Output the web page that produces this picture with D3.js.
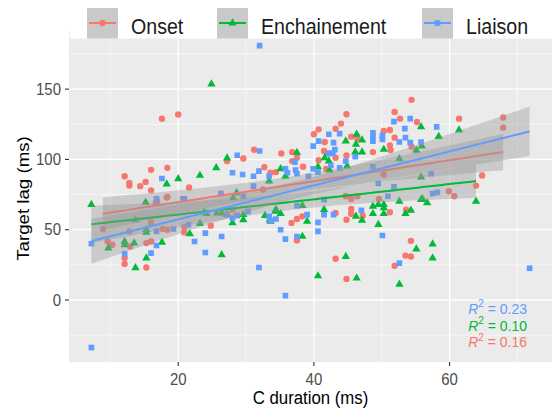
<!DOCTYPE html>
<html>
<head>
<meta charset="utf-8">
<script src="https://cdn.jsdelivr.net/npm/d3@7"></script>
<style>
	body { margin: 0; background: #fff; }
	text { font-family: 'Liberation Sans', Arial, sans-serif; }
</style>
</head>
<body>
<svg id="chart" width="552" height="410"></svg>
<script>
const groups = ['Onset', 'Enchainement', 'Liaison']
const colors = ['#F8766D', '#00BA38', '#619CFF']
const shapes = [d3.symbolCircle, d3.symbolTriangle, d3.symbolSquare]
const rSquared = ['0.16', '0.10', '0.23']
const xTicks = [20, 40, 60]
const xMinor = [10, 30, 50, 70]
const yTicks = [0, 50, 100, 150]
const yMinor = [-25, 25, 75, 125, 175]

// [C duration, target lag]
const onset = [
	[20, 132], [17.6, 129], [16, 92.6], [18.4, 94], [12.1, 88], [12.8, 83.3], [12.8, 81.4],
	[15.2, 84], [14.4, 81], [21.6, 80], [16, 78], [27.2, 98.8], [29.6, 100.7], [31.2, 106.9],
	[32.7, 94.5], [33.6, 90.5], [34.4, 91], [18.3, 72.9], [35.2, 104.3], [36.8, 105.2],
	[37.5, 101.2], [36.8, 98.8], [38.4, 94.8], [40, 117.9], [40.7, 121.4], [41.6, 112.4],
	[43.2, 121.9], [44, 125.5], [44.8, 132.1], [45.5, 116.2], [46.4, 114.8], [41.5, 106],
	[42.1, 104.3], [40.7, 99.5], [43.2, 101.2], [44.8, 102.9], [41.8, 93.3], [54.4, 142.4],
	[51.9, 133.8], [52.7, 129], [55.2, 126.6], [50.3, 120.2], [51.2, 120.9], [51.9, 115.5],
	[51.2, 110], [54.4, 109.1], [51.3, 106.7], [48.7, 105.2], [61.4, 129], [67.9, 129.8],
	[67.9, 122.6], [50.3, 89.3], [64.8, 88.6], [63.9, 81.4], [60.7, 73.8], [59.9, 77.4],
	[8.9, 50.5], [9.6, 41.6], [10.3, 39.3], [12.1, 29.8], [12.1, 25.7], [12.9, 38.1],
	[15.3, 23.1], [15.3, 40.5], [16, 41.6], [17.7, 50.5], [18.4, 50], [16, 55.2], [12.8, 48.8],
	[20.9, 51.9], [20.9, 48.1], [24.8, 52.9], [18.4, 73.3], [16.7, 69], [36.7, 54.8],
	[37.5, 57.6], [38.3, 59.5], [37.5, 42.4], [43.2, 61.9], [44.7, 73.8], [45.5, 71.9],
	[46.4, 73.8], [45.5, 64.8], [45.5, 61.4], [44.8, 57.1], [47.2, 60], [43.2, 29.3],
	[44.8, 15], [49.6, 71.9], [51.2, 62.4], [53.6, 64.3], [54.3, 42.1], [53.5, 31.6],
	[54.3, 30.9], [51.9, 24.3], [16.9, 70.2], [32.5, 78.6], [28, 64.3]
]
const enchainement = [
	[24.9, 153.6], [20, 86.2], [23.2, 88.6], [25.6, 94], [18.3, 82.4], [27.2, 101], [7.2, 67.9],
	[15.2, 69.5], [35.1, 93.3], [37.5, 104.8], [44.7, 113], [46.3, 117.9], [47.1, 113.8],
	[46.2, 110.7], [46.1, 105.2], [47.1, 105.2], [41.6, 101.2], [42.2, 98.8], [42.3, 92.4],
	[44.9, 95.2], [40.6, 94.8], [35.8, 88], [55.8, 123.1], [50.3, 107.1], [55.1, 106.4],
	[55.9, 109.5], [58.4, 116.2], [61.4, 120.9], [52.6, 100.5], [55.8, 87.4], [63.9, 70.2],
	[56, 71.9], [56.7, 69.1], [9.7, 36.9], [12.1, 41.6], [12.1, 39.3], [13.5, 40.5],
	[13.7, 22.9], [15.3, 29.8], [15.3, 48.1], [15.3, 50], [17.6, 41], [21.7, 47.1], [23.2, 54.3],
	[13.7, 57], [26.4, 32.1], [28, 54.8], [29.6, 60.7], [29.6, 57.1], [26.4, 61.9], [25.7, 61.9],
	[24.2, 61.4], [32.8, 60], [33.5, 57.1], [34.3, 63.1], [33.6, 55.9], [34.4, 64.3],
	[35.1, 61.4], [38.3, 67.1], [39, 55.9], [38.3, 45.2], [41.5, 64.3], [46.2, 59.5],
	[47.1, 56.7], [44.7, 30.9], [46.3, 15.5], [40.6, 17.1], [48.7, 66.6], [49.5, 67.9],
	[50.3, 67.9], [50.3, 65.5], [48.7, 61.4], [50.3, 61.4], [52.6, 70.2], [53.5, 61.4],
	[54.3, 63.8], [55.8, 71.4], [49.5, 53.6], [55.1, 36.2], [57.5, 39.8], [57.5, 29.8],
	[52.6, 11.2], [28.6, 76.2], [28.1, 72.6], [23.8, 62.4], [33.4, 84.5], [27.2, 60.7]
]
const liaison = [
	[17.6, 86.4], [28.7, 103], [32, 106], [28, 90.5], [29.5, 89.3], [31.1, 88], [31.9, 91.7],
	[33.4, 88], [26.3, 75.7], [20.7, 72], [32, 181], [35.8, 93.3], [36.1, 90.5], [37.3, 92.4],
	[37.5, 89.8], [39.9, 109.5], [40.7, 113], [42.2, 117.9], [42.9, 111.9], [43.1, 107],
	[43.8, 118.3], [46.1, 101.9], [42.2, 104.3], [42.8, 104.3], [42.5, 95.7], [44.7, 98.8],
	[43.8, 94], [39.9, 93.3], [40.6, 91], [39.2, 88], [37.2, 98.1], [51.8, 126.9], [54.2, 129],
	[53.4, 121.9], [50.1, 117.1], [50.1, 114.3], [48.7, 119], [48.7, 116.2], [48.7, 113],
	[52.6, 112.4], [53.5, 115.5], [54.2, 111.9], [55.8, 112.4], [58.1, 123.1], [48.7, 94.8],
	[57.3, 89.8], [49.5, 82.9], [57.5, 75.7], [58.2, 76.6], [7.2, 40], [7.2, -33.8],
	[12.1, 32.9], [16, 33.3], [16.8, 38.8], [16.8, 48.8], [19.3, 50.5], [21.5, 53.6], [24, 47.6],
	[22.4, 41.6], [24, 33.8], [16.8, 71.9], [20.9, 71.9], [26.4, 45.2], [27.2, 60.7], [28, 58.3],
	[28.7, 60], [30.3, 63.1], [31.9, 23.1], [33.4, 59.5], [33.6, 56.7], [34.4, 57.6], [35.1, 50],
	[39, 60.7], [37.5, 67.1], [35.8, 43.3], [37.5, 45.2], [40.6, 55.2], [40.6, 48.8],
	[41.5, 60.7], [41.5, 71.4], [42.9, 60.7], [47, 63.8], [35.8, 3.1], [50.9, 73.8],
	[50.1, 45.9], [52.6, 26.2], [71.8, 22.6], [29.6, 73.8], [31.1, 81], [51.8, 80.5]
]
const series = [onset, enchainement, liaison]

const svg = d3.select('#chart')
const panel = { left: 69, right: 552, top: 31.5, bottom: 362 }

const x = d3.scaleLinear().domain([3.9, 75.1]).range([panel.left, panel.right])
const y = d3.scaleLinear().domain([-44.1, 191]).range([panel.bottom, panel.top])

// text in the picture is stretched a little vertically
const stretch = (tx, ty) => `translate(${tx},${ty}) scale(1,1.1)`

svg.append('clipPath')
	.attr('id', 'clip')
	.append('rect')
	.attr('x', panel.left)
	.attr('y', panel.top)
	.attr('width', panel.right - panel.left)
	.attr('height', panel.bottom - panel.top)

svg.append('rect')
	.attr('x', panel.left)
	.attr('y', panel.top)
	.attr('width', panel.right - panel.left)
	.attr('height', panel.bottom - panel.top)
	.attr('fill', '#EBEBEB')

const grid = svg.append('g').attr('stroke', '#fff')
grid.selectAll('.xminor')
	.data(xMinor)
	.enter()
	.append('line')
	.attr('x1', d => x(d)).attr('x2', d => x(d))
	.attr('y1', panel.top).attr('y2', panel.bottom)
	.attr('stroke-width', 0.6)
grid.selectAll('.yminor')
	.data(yMinor)
	.enter()
	.append('line')
	.attr('y1', d => y(d)).attr('y2', d => y(d))
	.attr('x1', panel.left).attr('x2', panel.right)
	.attr('stroke-width', 0.6)
grid.selectAll('.xmajor')
	.data(xTicks)
	.enter()
	.append('line')
	.attr('x1', d => x(d)).attr('x2', d => x(d))
	.attr('y1', panel.top).attr('y2', panel.bottom)
	.attr('stroke-width', 1.3)
grid.selectAll('.ymajor')
	.data(yTicks)
	.enter()
	.append('line')
	.attr('y1', d => y(d)).attr('y2', d => y(d))
	.attr('x1', panel.left).attr('x2', panel.right)
	.attr('stroke-width', 1.3)

const plot = svg.append('g').attr('clip-path', 'url(#clip)')

series.forEach((pts, i) => {
	plot.append('g')
		.selectAll('path')
		.data(pts)
		.enter()
		.append('path')
		.attr('d', d3.symbol().type(shapes[i]).size(i == 1 ? 30 : 32))
		.attr('transform', d => `translate(${x(d[0])},${y(d[1])})`)
		.attr('fill', colors[i])
})

function tQuantile(df) {
	const z = 1.959964
	return z + (z ** 3 + z) / (4 * df) + (5 * z ** 5 + 16 * z ** 3 + 3 * z) / (96 * df * df)
}

// linear fit with 95% confidence band, like geom_smooth(method = 'lm')
function fitLine(pts) {
	const n = pts.length
	const mx = d3.mean(pts, d => d[0])
	const my = d3.mean(pts, d => d[1])
	const sxx = d3.sum(pts, d => (d[0] - mx) ** 2)
	const slope = d3.sum(pts, d => (d[0] - mx) * (d[1] - my)) / sxx
	const icpt = my - slope * mx
	const s = Math.sqrt(d3.sum(pts, d => (d[1] - icpt - slope * d[0]) ** 2) / (n - 2))
	const t = tQuantile(n - 2)
	const [x0, x1] = d3.extent(pts, d => d[0])
	return d3.range(80).map(k => {
		const xv = x0 + ((x1 - x0) * k) / 79
		const yv = icpt + slope * xv
		const se = s * Math.sqrt(1 / n + (xv - mx) ** 2 / sxx)
		return { x: xv, y: yv, lo: yv - t * se, hi: yv + t * se }
	})
}

series.forEach((pts, i) => {
	const fit = fitLine(pts)
	plot.append('path')
		.datum(fit)
		.attr('d', d3.area().x(d => x(d.x)).y0(d => y(d.lo)).y1(d => y(d.hi)))
		.attr('fill', '#999999')
		.attr('fill-opacity', 0.4)
	plot.append('path')
		.datum(fit)
		.attr('d', d3.line().x(d => x(d.x)).y(d => y(d.y)))
		.attr('fill', 'none')
		.attr('stroke', colors[i])
		.attr('stroke-width', 2)
})

// axes
const xAxis = svg.append('g')
xAxis.selectAll('line')
	.data(xTicks)
	.enter()
	.append('line')
	.attr('x1', d => x(d)).attr('x2', d => x(d))
	.attr('y1', panel.bottom).attr('y2', panel.bottom + 4)
	.attr('stroke', '#333')
	.attr('stroke-width', 1.1)
xAxis.selectAll('text')
	.data(xTicks)
	.enter()
	.append('text')
	.attr('transform', d => stretch(x(d), 384.5))
	.attr('text-anchor', 'middle')
	.attr('font-size', 15)
	.attr('fill', '#4D4D4D')
	.text(d => d)

const yAxis = svg.append('g')
yAxis.selectAll('line')
	.data(yTicks)
	.enter()
	.append('line')
	.attr('y1', d => y(d)).attr('y2', d => y(d))
	.attr('x1', panel.left - 4).attr('x2', panel.left)
	.attr('stroke', '#333')
	.attr('stroke-width', 1.1)
yAxis.selectAll('text')
	.data(yTicks)
	.enter()
	.append('text')
	.attr('transform', d => stretch(61, y(d) + 5.5))
	.attr('text-anchor', 'end')
	.attr('font-size', 15)
	.attr('fill', '#4D4D4D')
	.text(d => d)

svg.append('text')
	.attr('transform', stretch((panel.left + panel.right) / 2, 404))
	.attr('text-anchor', 'middle')
	.attr('font-size', 16.8)
	.text('C duration (ms)')

svg.append('text')
	.attr('transform', `translate(28.5,198.5) scale(1,1.1) rotate(-90)`)
	.attr('text-anchor', 'middle')
	.attr('font-size', 17)
	.text('Target lag (ms)')

// R squared labels, Liaison on top
const rLabels = [2, 1, 0]
rLabels.forEach((g, k) => {
	const label = svg.append('text')
		.attr('transform', stretch(527, 314 + k * 16.7))
		.attr('text-anchor', 'end')
		.attr('font-size', 14)
		.attr('fill', colors[g])
	label.append('tspan').attr('font-style', 'italic').text('R')
	label.append('tspan').attr('font-size', 10).attr('dy', -6).text('2')
	label.append('tspan').attr('dy', 6).text(' = ' + rSquared[g])
})

// legend on top, its white box hides the top strip of the panel
svg.append('rect')
	.attr('x', 70)
	.attr('y', 0)
	.attr('width', 482)
	.attr('height', 38.5)
	.attr('fill', '#fff')

const keyX = [87, 217, 422]
const legend = svg.append('g')
groups.forEach((name, i) => {
	const key = legend.append('g').attr('transform', `translate(${keyX[i]},8)`)
	key.append('rect')
		.attr('width', 31)
		.attr('height', 30.5)
		.attr('fill', '#C9C9C9')
	key.append('line')
		.attr('x1', 2).attr('x2', 29)
		.attr('y1', 15).attr('y2', 15)
		.attr('stroke', colors[i])
		.attr('stroke-width', 2)
	key.append('path')
		.attr('d', d3.symbol().type(shapes[i]).size(i == 1 ? 30 : 32))
		.attr('transform', 'translate(15.5,15)')
		.attr('fill', colors[i])
	legend.append('text')
		.attr('transform', stretch(keyX[i] + 44, 34))
		.attr('font-size', 19.6)
		.attr('fill', '#1a1a1a')
		.text(name)
})
</script>
</body>
</html>
